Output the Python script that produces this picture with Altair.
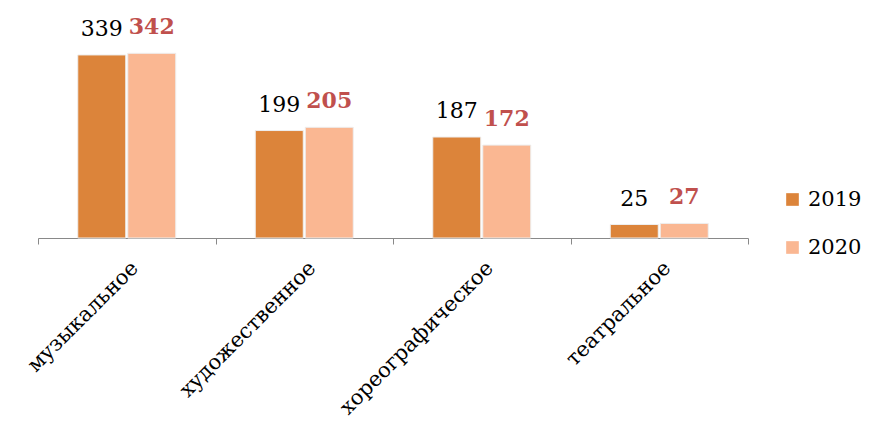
import altair as alt
import pandas as pd

categories = ["музыкальное", "художественное", "хореографическое", "театральное"]
years = ["2019", "2020"]
v2019 = [339, 199, 187, 25]
v2020 = [342, 205, 172, 27]

rows = []
for c, a, b in zip(categories, v2019, v2020):
    rows.append({"cat": c, "year": "2019", "value": a})
    rows.append({"cat": c, "year": "2020", "value": b})
df = pd.DataFrame(rows)

FONT = "DejaVu Serif"

base = alt.Chart(df).encode(
    x=alt.X(
        "cat:N",
        sort=categories,
        title=None,
        scale=alt.Scale(paddingInner=0, paddingOuter=0),
        axis=alt.Axis(
            labelAngle=-45,
            labelFont=FONT,
            labelFontSize=21,
            labelColor="#000000",
            labelPadding=13,
            tickBand="extent",
            tickSize=6,
            tickColor="#898989",
            domainColor="#898989",
            labelLimit=400,
        ),
    ),
    xOffset=alt.XOffset(
        "year:N", sort=years, scale=alt.Scale(paddingInner=0.04, paddingOuter=0.795)
    ),
    y=alt.Y("value:Q", scale=alt.Scale(domain=[0, 400]), axis=None),
)

bars = base.mark_bar(stroke="#eeeeee", strokeWidth=1).encode(
    color=alt.Color(
        "year:N",
        sort=years,
        scale=alt.Scale(domain=years, range=["#DC843A", "#FAB792"]),
        legend=alt.Legend(
            title=None,
            orient="none",
            legendX=744,
            legendY=167,
            symbolType="square",
            symbolSize=160,
            symbolStrokeWidth=0,
            labelFont=FONT,
            labelFontSize=21,
            labelColor="#000000",
            labelOffset=5,
            rowPadding=26,
        ),
    )
)

t19 = base.transform_filter(alt.datum.year == "2019").mark_text(
    baseline="bottom", dy=-14, font=FONT, fontSize=22, color="#000000"
).encode(text="value:Q")

t20 = base.transform_filter(alt.datum.year == "2020").mark_text(
    baseline="bottom", dy=-14, font=FONT, fontSize=22, fontWeight="bold", color="#C0504D"
).encode(text="value:Q")

chart = (
    alt.layer(bars, t19, t20)
    .properties(
        width=710,
        height=216,
        autosize=alt.AutoSizeParams(type="none"),
        padding={"left": 30, "top": 14, "right": 114, "bottom": 181},
    )
    .configure_view(stroke=None)
)

chart.save("out.html", embed_options={"renderer": "svg", "actions": False})
